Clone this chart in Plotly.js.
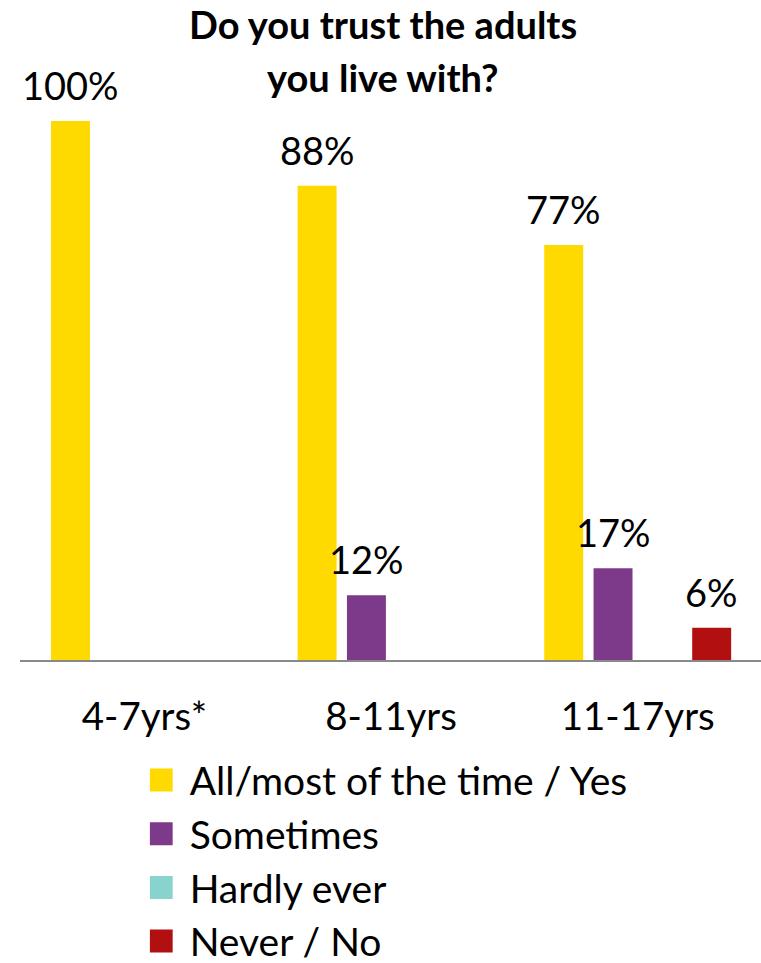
<!DOCTYPE html>
<html>
<head>
<meta charset="utf-8">
<script src="https://cdn.plot.ly/plotly-3.0.1.min.js"></script>
<style>html,body{margin:0;padding:0;background:#fff;}#chart{width:761px;height:963px;}</style>
</head>
<body>
<div id="chart"></div>
<script>
var categories = ['4-7yrs*', '8-11yrs', '11-17yrs'];
var seriesNames = ['All/most of the time / Yes', 'Sometimes', 'Hardly ever', 'Never / No'];
var allMost = [100, 88, 77];
var sometimes = [null, 12, 17];
var hardlyEver = [null, null, null];
var neverNo = [null, null, 6];
var seriesColors = ['#FFDA00', '#7E3A8A', '#88D3CE', '#B20F10'];
var titleLines = ['Do you trust the adults', 'you live with?'];

var FONT = 'Lato, "Open Sans", sans-serif';
var seriesValues = [allMost, sometimes, hardlyEver, neverNo];

var traces = seriesValues.map(function (vals, i) {
  return {
    type: 'bar',
    name: seriesNames[i],
    x: categories,
    y: vals,
    marker: {color: seriesColors[i]},
    legendgroup: 'g' + i,
    hoverinfo: 'none'
  };
});

var annotations = [];
var nS = seriesValues.length;
var groupW = 0.8;
seriesValues.forEach(function (vals, i) {
  vals.forEach(function (v, j) {
    if (v === null || v === undefined) return;
    annotations.push({
      x: j - groupW / 2 + groupW / nS * (i + 0.5),
      y: v,
      xref: 'x', yref: 'y',
      text: v + '%',
      showarrow: false,
      yanchor: 'bottom',
      yshift: 11,
      font: {family: FONT, size: 38, color: '#000'}
    });
  });
});
annotations.push({
  x: 0.49, y: 1.18, xref: 'paper', yref: 'paper', xanchor: 'center', yanchor: 'middle',
  text: '<b>' + titleLines[0] + '</b>', showarrow: false,
  font: {family: FONT, size: 38, color: '#000'}
});
annotations.push({
  x: 0.49, y: 1.081, xref: 'paper', yref: 'paper', xanchor: 'center', yanchor: 'middle',
  text: '<b>' + titleLines[1] + '</b>', showarrow: false,
  font: {family: FONT, size: 38, color: '#000'}
});

var layout = {
  width: 761, height: 963,
  margin: {l: 20, r: 0, t: 121, b: 303, pad: 0},
  paper_bgcolor: '#fff', plot_bgcolor: '#fff',
  barmode: 'group', bargap: 0.2, bargroupgap: 0.21,
  font: {family: FONT, size: 39, color: '#000'},
  xaxis: {
    type: 'category',
    showline: true, linecolor: '#898989', linewidth: 2,
    ticks: 'outside', ticklen: 22, tickcolor: 'rgba(0,0,0,0)',
    tickfont: {family: FONT, size: 38.5, color: '#000'},
    showgrid: false, zeroline: false, fixedrange: true
  },
  yaxis: {
    range: [0, 100], visible: false, showgrid: false, zeroline: false, fixedrange: true
  },
  showlegend: true,
  legend: {
    orientation: 'v', x: 0.175, xanchor: 'left', y: -0.11, yanchor: 'top',
    font: {family: FONT, size: 39, color: '#000'},
    tracegroupgap: 18, traceorder: 'normal', bgcolor: 'rgba(0,0,0,0)'
  },
  annotations: annotations
};

Plotly.newPlot('chart', traces, layout, {displayModeBar: false, staticPlot: true}).then(function () {
  document.querySelectorAll('.legendpoints path').forEach(function (p) {
    p.removeAttribute('transform');
    p.setAttribute('d', 'M23,11.5H0V-11.5H23Z');
  });
  // nudge the legend block down to sit where the reference legend sits
  var leg = document.querySelector('.legend');
  var firstPt = document.querySelector('.legendpoints path');
  if (leg && firstPt) {
    var r = firstPt.getBoundingClientRect();
    var dy = 780 - (r.top + r.height / 2);
    var t = leg.getAttribute('transform') || '';
    leg.setAttribute('transform', t + ' translate(0,' + dy + ')');
  }
});
</script>
</body>
</html>
